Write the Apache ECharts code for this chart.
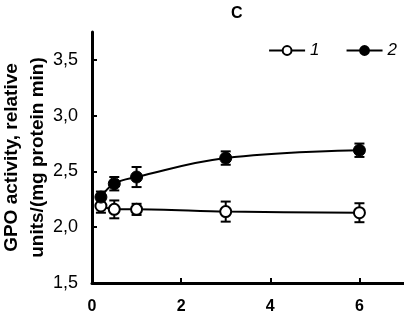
<!DOCTYPE html>
<html>
<head>
<meta charset="utf-8">
<script src="https://cdn.jsdelivr.net/npm/echarts@6/dist/echarts.min.js"></script>
<style>
  html, body { margin: 0; padding: 0; background: #fff; }
  #chart { width: 404px; height: 318px; }
</style>
</head>
<body>
<div id="chart"></div>
<script>
// 时间点
const xValues = [0.2, 0.5, 1, 3, 6];
// 系列 1（空心）
const s1Values = [2.19, 2.16, 2.16, 2.14, 2.13];
const s1Err = [0.06, 0.08, 0.05, 0.09, 0.085];
// 系列 2（实心）
const s2Values = [2.27, 2.39, 2.45, 2.62, 2.69];
const s2Err = [0.05, 0.06, 0.09, 0.06, 0.06];
// 刻度
const xTicks = [0, 2, 4, 6];
const yTicks = [1.5, 2.0, 2.5, 3.0, 3.5];

const font = "Liberation Sans, Arial, sans-serif";

function pairs(vals) {
  return xValues.map((x, i) => [x, vals[i]]);
}
function errData(vals, errs) {
  return xValues.map((x, i) => [x, vals[i] - errs[i], vals[i] + errs[i]]);
}
function errorBar(params, api) {
  // 误差线
  const top = api.coord([api.value(0), api.value(2)]);
  const bot = api.coord([api.value(0), api.value(1)]);
  const w = 5;
  const style = { stroke: "#000", lineWidth: 2 };
  return {
    type: "group",
    children: [
      { type: "line", shape: { x1: top[0], y1: top[1], x2: bot[0], y2: bot[1] }, style },
      { type: "line", shape: { x1: top[0] - w, y1: top[1], x2: top[0] + w, y2: top[1] }, style },
      { type: "line", shape: { x1: bot[0] - w, y1: bot[1], x2: bot[0] + w, y2: bot[1] }, style },
    ],
  };
}

const chart = echarts.init(document.getElementById("chart"));
chart.setOption({
  animation: false,
  title: {
    text: "C",
    left: 226,
    top: 1,
    textStyle: { fontFamily: font, fontSize: 16, fontWeight: "bold", color: "#000" },
  },
  legend: {
    data: ["1", "2"],
    right: 2,
    top: 37,
    itemWidth: 36,
    itemHeight: 11,
    itemGap: 26,
    textStyle: { fontFamily: font, fontSize: 17, fontStyle: "italic", color: "#000" },
  },
  grid: { left: 92, right: 0, top: 32, bottom: 35, containLabel: false, outerBoundsMode: "none" },
  xAxis: {
    type: "value",
    min: 0,
    max: 7,
    interval: 1,
    axisLine: { lineStyle: { color: "#000", width: 3 } },
    axisTick: { inside: true, length: 5, lineStyle: { color: "#000", width: 2 }, customValues: xTicks },
    axisLabel: { customValues: xTicks, margin: 16, fontFamily: font, fontSize: 16, fontWeight: "bold", color: "#000" },
    splitLine: { show: false },
  },
  yAxis: {
    type: "value",
    min: 1.5,
    max: 3.75,
    interval: 0.25,
    name: "GPO activity, relative\nunits/(mg protein min)",
    nameLocation: "middle",
    nameRotate: 90,
    nameGap: 41,
    nameMoveOverlap: false,
    nameTextStyle: { fontFamily: font, fontSize: 19, fontWeight: "bold", color: "#000", lineHeight: 26 },
    axisLine: { lineStyle: { color: "#000", width: 3 } },
    axisTick: { inside: true, length: 5, lineStyle: { color: "#000", width: 2 }, customValues: yTicks },
    axisLabel: {
      customValues: yTicks,
      margin: 14,
      fontFamily: font,
      fontSize: 18,
      color: "#000",
      formatter: (v) => v.toFixed(1).replace(".", ","),
    },
    splitLine: { show: false },
  },
  series: [
    {
      type: "custom",
      renderItem: errorBar,
      data: errData(s1Values, s1Err),
      z: 1,
    },
    {
      type: "custom",
      renderItem: errorBar,
      data: errData(s2Values, s2Err),
      z: 1,
    },
    {
      name: "1",
      type: "line",
      data: pairs(s1Values),
      smooth: 0.3,
      symbol: "circle",
      symbolSize: 11,
      lineStyle: { color: "#000", width: 2 },
      itemStyle: { color: "#fff", borderColor: "#000", borderWidth: 2 },
      z: 3,
    },
    {
      name: "2",
      type: "line",
      data: pairs(s2Values),
      smooth: 0.4,
      symbol: "circle",
      symbolSize: 12,
      lineStyle: { color: "#000", width: 2 },
      itemStyle: { color: "#000", borderColor: "#000", borderWidth: 1 },
      z: 3,
    },
  ],
});
</script>
</body>
</html>
